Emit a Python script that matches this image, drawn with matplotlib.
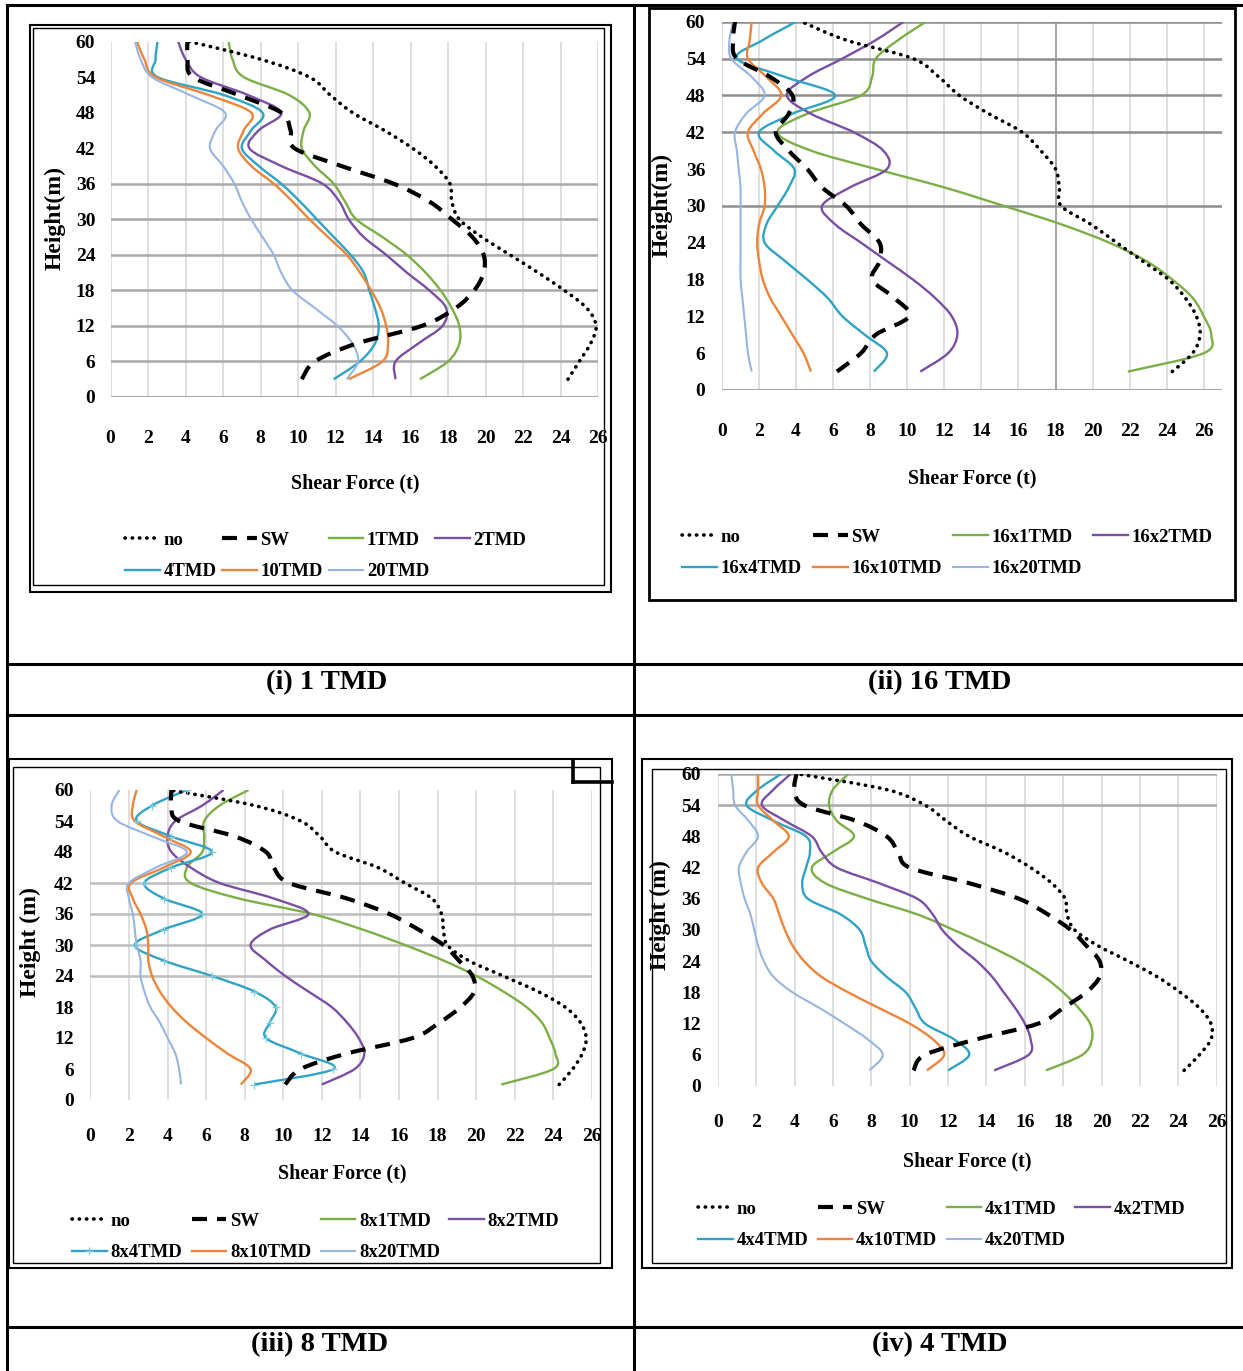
"""
Shear force along the building height for the four TMD layouts
(1, 16, 8 and 4 TMD), drawn as a 2x2 table with captions.
"""
import matplotlib
matplotlib.use("Agg")
import matplotlib.pyplot as plt
from matplotlib.lines import Line2D
from matplotlib.patches import Rectangle, PathPatch
from matplotlib.path import Path

W, H = 1243, 1371

plt.rcParams["font.family"] = ["Liberation Serif", "DejaVu Serif"]
plt.rcParams["font.weight"] = "bold"

# ── Storey heights (m) ─────────────────────────────────────────────────────
HEIGHTS = [3, 6, 9, 12, 15, 18, 21, 24, 27, 30, 33, 36, 39, 42, 45, 48, 51, 54, 57, 60]

# ── (i) 1 TMD: shear force (t) per storey ──────────────────────────────────
NO_1 = [24.4, 25.0, 25.6, 25.9, 25.4, 24.2, 22.8, 21.3, 19.8, 18.6, 18.2, 18.1, 17.3, 16.1, 14.6, 12.9, 11.7, 10.6, 8.0, 4.2]
SW_1 = [10.2, 10.9, 13.1, 16.6, 18.4, 19.4, 19.9, 19.9, 19.3, 18.2, 17.0, 15.1, 12.3, 9.8, 9.6, 9.1, 6.8, 4.4, 4.1, 4.1]
T1_1 = [16.5, 18.0, 18.6, 18.6, 18.2, 17.6, 16.8, 15.8, 14.5, 13.1, 12.5, 11.9, 10.9, 10.2, 10.3, 10.6, 9.5, 7.1, 6.5, 6.3]
T2_1 = [15.2, 15.2, 16.4, 17.7, 17.9, 17.0, 15.8, 14.7, 13.5, 12.7, 12.2, 11.3, 9.1, 7.4, 7.9, 9.1, 7.3, 4.8, 4.0, 3.6]
T4_1 = [11.9, 13.3, 14.1, 14.3, 14.1, 13.8, 13.5, 12.8, 11.9, 11.0, 10.1, 9.1, 7.9, 7.0, 7.5, 8.1, 6.0, 2.5, 2.4, 2.5]
T10_1 = [12.7, 14.5, 14.8, 14.7, 14.4, 13.9, 13.3, 12.6, 11.6, 10.6, 9.7, 8.7, 7.5, 6.8, 7.1, 7.5, 5.2, 2.4, 1.8, 1.4]
T20_1 = [12.6, 13.2, 12.9, 12.1, 10.9, 9.7, 9.1, 8.7, 8.1, 7.5, 7.0, 6.6, 6.0, 5.3, 5.6, 6.1, 4.2, 2.2, 1.6, 1.3]
LABELS_1 = ["no", "SW", "1TMD", "2TMD", "4TMD", "10TMD", "20TMD"]

# ── (ii) 16 TMD ────────────────────────────────────────────────────────────
NO_16 = [24.3, 25.4, 25.8, 25.6, 25.0, 24.1, 22.7, 21.3, 19.9, 18.3, 18.2, 18.0, 17.2, 16.2, 14.4, 12.8, 11.7, 10.3, 6.7, 4.3]
SW_16 = [6.2, 7.5, 8.3, 10.1, 9.3, 8.1, 8.5, 8.5, 7.5, 6.7, 5.4, 4.6, 3.6, 2.9, 3.6, 3.8, 2.6, 0.8, 0.6, 0.7]
T1_16 = [21.9, 26.0, 26.4, 26.0, 25.4, 24.3, 22.9, 20.9, 18.3, 15.2, 12.0, 8.3, 4.8, 3.0, 4.6, 7.5, 8.1, 8.3, 9.5, 11.0]
T2_16 = [10.7, 12.2, 12.7, 12.4, 11.5, 10.3, 8.9, 7.5, 6.1, 5.4, 6.9, 8.9, 8.7, 7.1, 4.8, 3.5, 4.6, 6.5, 8.3, 9.8]
T4_16 = [8.2, 8.9, 7.7, 6.5, 5.7, 4.6, 3.4, 2.3, 2.4, 3.0, 3.6, 3.9, 2.8, 2.0, 3.8, 6.1, 3.4, 0.8, 2.2, 4.0]
T10_16 = [4.8, 4.4, 3.8, 3.2, 2.6, 2.2, 2.0, 1.9, 2.0, 2.3, 2.3, 2.1, 1.7, 1.4, 2.2, 3.2, 2.4, 1.4, 1.5, 1.6]
T20_16 = [1.6, 1.4, 1.3, 1.2, 1.1, 1.0, 1.0, 1.0, 1.0, 1.0, 1.0, 0.9, 0.8, 0.7, 1.3, 2.3, 1.6, 0.5, 0.4, 0.6]
LABELS_16 = ["no", "SW", "16x1TMD", "16x2TMD", "16x4TMD", "16x10TMD", "16x20TMD"]

# ── (iii) 8 TMD ────────────────────────────────────────────────────────────
NO_8 = [24.3, 25.0, 25.5, 25.7, 25.4, 24.6, 23.2, 21.4, 19.6, 18.5, 18.3, 18.2, 17.7, 16.3, 14.9, 12.7, 11.9, 10.9, 8.5, 4.1]
SW_8 = [10.1, 10.9, 13.3, 16.7, 18.1, 19.2, 19.9, 19.8, 19.1, 18.3, 17.0, 15.5, 13.3, 10.3, 9.5, 9.1, 7.5, 4.6, 4.2, 4.2]
T1_8 = [21.3, 24.0, 24.1, 23.8, 23.4, 22.6, 21.4, 20.0, 18.3, 16.3, 14.1, 11.5, 7.7, 5.2, 5.0, 5.8, 5.9, 5.9, 6.7, 8.2]
T2_8 = [12.0, 13.7, 14.2, 13.9, 13.3, 12.5, 11.3, 10.1, 9.1, 8.3, 9.3, 11.3, 9.5, 6.7, 5.2, 4.2, 4.0, 4.4, 5.8, 6.9]
T4_8 = [8.5, 12.6, 10.9, 9.1, 9.3, 9.6, 8.5, 6.3, 3.8, 2.3, 3.8, 5.8, 3.8, 2.8, 4.2, 6.3, 4.2, 2.4, 3.2, 5.0]
T10_8 = [7.8, 8.3, 7.1, 6.0, 5.0, 4.2, 3.6, 3.2, 3.0, 3.0, 2.9, 2.6, 2.2, 2.1, 3.8, 5.2, 3.8, 2.3, 2.2, 2.4]
T20_8 = [4.7, 4.6, 4.4, 4.0, 3.6, 3.1, 2.8, 2.6, 2.6, 2.4, 2.3, 2.2, 2.0, 2.0, 3.4, 5.0, 3.2, 1.4, 1.1, 1.5]
LABELS_8 = ["no", "SW", "8x1TMD", "8x2TMD", "8x4TMD", "8x10TMD", "8x20TMD"]

# ── (iv) 4 TMD ─────────────────────────────────────────────────────────────
NO_4 = [24.3, 25.1, 25.7, 25.7, 25.1, 24.1, 22.9, 21.4, 19.8, 18.6, 18.2, 18.1, 17.4, 16.3, 14.9, 13.1, 11.9, 10.8, 8.8, 4.2]
SW_4 = [10.2, 10.8, 13.5, 16.7, 18.0, 19.2, 19.9, 19.9, 19.2, 18.4, 17.2, 15.7, 13.1, 10.0, 9.4, 8.8, 7.2, 4.5, 4.0, 4.1]
T1_4 = [17.1, 19.0, 19.5, 19.4, 18.8, 18.0, 17.0, 15.7, 14.1, 12.3, 10.4, 7.8, 5.6, 4.9, 6.0, 7.1, 6.2, 5.8, 6.0, 6.8]
T2_4 = [14.4, 16.2, 16.3, 16.0, 15.5, 14.9, 14.3, 13.5, 12.5, 11.7, 11.2, 10.4, 8.4, 6.2, 5.4, 4.9, 3.5, 2.3, 2.9, 3.8]
T4_4 = [12.0, 13.1, 12.3, 10.8, 10.3, 9.8, 8.8, 8.0, 7.7, 7.4, 6.4, 4.7, 4.4, 4.6, 4.8, 4.6, 2.9, 1.5, 2.1, 3.3]
T10_4 = [10.9, 11.8, 11.2, 10.0, 8.4, 6.8, 5.4, 4.5, 3.9, 3.5, 3.2, 2.9, 2.3, 2.1, 2.9, 3.7, 2.9, 2.1, 2.1, 2.1]
T20_4 = [7.9, 8.6, 7.8, 6.6, 5.3, 3.9, 2.9, 2.4, 2.1, 1.9, 1.7, 1.4, 1.2, 1.1, 1.5, 2.1, 1.6, 0.9, 0.8, 0.7]
LABELS_4 = ["no", "SW", "4x1TMD", "4x2TMD", "4x4TMD", "4x10TMD", "4x20TMD"]

X_TICKS = [0, 2, 4, 6, 8, 10, 12, 14, 16, 18, 20, 22, 24, 26]
Y_TICKS = [0, 6, 12, 18, 24, 30, 36, 42, 48, 54, 60]
CAPTIONS = ["(i) 1 TMD", "(ii) 16 TMD", "(iii) 8 TMD", "(iv) 4 TMD"]

# ── Estilos de serie ───────────────────────────────────────────────────────
STYLES = [
    dict(color="black", lw=2.6, linestyle=(0, (0.1, 1.9)), capstyle="round"),
    dict(color="black", lw=3.0, linestyle=(0, (3.6, 2.4)), capstyle="butt"),
    dict(color="#7BAF45", lw=1.7, linestyle="-", capstyle="butt"),
    dict(color="#7A4FA3", lw=1.7, linestyle="-", capstyle="butt"),
    dict(color="#2FA3C4", lw=1.7, linestyle="-", capstyle="butt"),
    dict(color="#EE8439", lw=1.7, linestyle="-", capstyle="butt"),
    dict(color="#97B5E0", lw=1.5, linestyle="-", capstyle="butt"),
]

fig = plt.figure(figsize=(W / 100, H / 100), dpi=100)


def fx(x):
    return x / W


def fy(y):
    return 1 - y / H


def seg(x0, y0, x1, y1, lw=2.2, color="black"):
    fig.add_artist(Line2D([fx(x0), fx(x1)], [fy(y0), fy(y1)],
                          transform=fig.transFigure, lw=lw, color=color,
                          solid_capstyle="projecting"))


def box(x0, y0, x1, y1, lw=1.5, color="black"):
    fig.add_artist(Rectangle((fx(x0), fy(y1)), fx(x1) - fx(x0), fy(y0) - fy(y1),
                             transform=fig.transFigure, fill=False, lw=lw, ec=color))


def smooth_path(xs, ys):
    """Curva suave (Catmull-Rom en Bézier cúbicas) que pasa por cada punto."""
    pts = list(zip(xs, ys))
    n = len(pts)
    verts = [pts[0]]
    codes = [Path.MOVETO]
    for i in range(n - 1):
        p0 = pts[max(i - 1, 0)]
        p1 = pts[i]
        p2 = pts[i + 1]
        p3 = pts[min(i + 2, n - 1)]
        c1 = (p1[0] + (p2[0] - p0[0]) / 6, p1[1] + (p2[1] - p0[1]) / 6)
        c2 = (p2[0] - (p3[0] - p1[0]) / 6, p2[1] - (p3[1] - p1[1]) / 6)
        verts += [c1, c2, p2]
        codes += [Path.CURVE4] * 3
    return Path(verts, codes)


# ── Tabla ──────────────────────────────────────────────────────────────────
seg(7, 5, 1243, 5)
seg(7, 5, 7, 1371)
seg(634, 5, 634, 1371)
for yy in (664, 715, 1327):
    seg(7, yy, 1243, yy)

caption_pos = [(327, 683), (940, 683), (320, 1345), (940, 1345)]
for (cx, cy), cap in zip(caption_pos, CAPTIONS):
    fig.text(fx(cx), fy(cy), cap, ha="center", va="center", fontsize=20.5,
             fontweight="bold")

# ── Paneles ────────────────────────────────────────────────────────────────
PANELS = [
    dict(series=[NO_1, SW_1, T1_1, T2_1, T4_1, T10_1, T20_1], labels=LABELS_1,
         x0=110.6, x26=598, y0=397, y60=41.5, xmax=26,
         hgrid=[6, 12, 18, 24, 30, 36], hcolor="#a8a8a8", zero_line=True,
         xpad=24, ypad=11, ylabel="Height(m)",
         xlab=(355, 483), ylab=(55, 218), leg=(125, 556), colsp=0.3),
    dict(series=[NO_16, SW_16, T1_16, T2_16, T4_16, T10_16, T20_16], labels=LABELS_16,
         x0=722, x26=1203.8, y0=390, y60=21.7, xmax=27,
         hgrid=[30, 42, 48, 54, 60], hcolor="#8e8e8e", zero_line=True,
         xpad=24, ypad=12, ylabel="Height(m)",
         xlab=(972, 478), ylab=(662, 205), leg=(682, 553), colsp=0.6),
    dict(series=[NO_8, SW_8, T1_8, T2_8, T4_8, T10_8, T20_8], labels=LABELS_8,
         x0=90.4, x26=592, y0=1100, y60=790, xmax=26,
         hgrid=[24, 30, 36, 42], hcolor="#bdbdbd", zero_line=False,
         xpad=20, ypad=12, ylabel="Height (m)",
         xlab=(342, 1173), ylab=(30, 942), leg=(72, 1237), colsp=0.5),
    dict(series=[NO_4, SW_4, T1_4, T2_4, T4_4, T10_4, T20_4], labels=LABELS_4,
         x0=717.8, x26=1216.7, y0=1086, y60=774, xmax=26,
         hgrid=[54, 60], hcolor="#a8a8a8", zero_line=False,
         xpad=20, ypad=12, ylabel="Height (m)",
         xlab=(967, 1161), ylab=(660, 915), leg=(698, 1225), colsp=0.5),
]

for k, p in enumerate(PANELS):
    unit = (p["x26"] - p["x0"]) / 26
    x1 = p["x0"] + unit * p["xmax"]
    ax = fig.add_axes([fx(p["x0"]), fy(p["y0"]), fx(x1) - fx(p["x0"]),
                       fy(p["y60"]) - fy(p["y0"])])
    ax.set_xlim(0, p["xmax"])
    ax.set_ylim(0, 60)
    ax.patch.set_alpha(0)
    for s in ax.spines.values():
        s.set_visible(False)

    for xv in X_TICKS:
        ax.axvline(xv, color="#d6d6d6", lw=1.1, zorder=0)
    if k == 1:
        ax.axvline(18, color="#a0a0a0", lw=1.3, zorder=0)
    for yv in p["hgrid"]:
        ax.axhline(yv, color=p["hcolor"], lw=1.8, zorder=0)
    if p["zero_line"]:
        ax.axhline(0, color="#a8a8a8", lw=1.5, zorder=0)

    handles = []
    for i, (vals, lab) in enumerate(zip(p["series"], p["labels"])):
        st = STYLES[i]
        ax.add_patch(PathPatch(smooth_path(vals, HEIGHTS), fill=False,
                               edgecolor=st["color"], lw=st["lw"],
                               linestyle=st["linestyle"], capstyle=st["capstyle"],
                               joinstyle="round", zorder=3 + (i < 2)))
        extra = {}
        if k == 2 and i == 4:
            # serie con marcadores en cada planta
            ax.plot(vals, HEIGHTS, linestyle="none", marker="+", markersize=6,
                    markeredgewidth=0.9, markeredgecolor="#7fcbe0", zorder=4)
            extra = dict(marker="+", markersize=6, markeredgewidth=0.9,
                         markeredgecolor="#7fcbe0")
        handles.append(Line2D([], [], color=st["color"], lw=st["lw"],
                              linestyle=st["linestyle"],
                              dash_capstyle=st["capstyle"], **extra))

    ax.set_xticks(X_TICKS)
    ax.set_yticks(Y_TICKS)
    ax.tick_params(axis="both", length=0, labelsize=14)
    ax.tick_params(axis="x", pad=p["xpad"])
    ax.tick_params(axis="y", pad=p["ypad"])

    fig.text(fx(p["xlab"][0]), fy(p["xlab"][1]), "Shear Force (t)", ha="center",
             va="center", fontsize=14.5, fontweight="bold")
    fig.text(fx(p["ylab"][0]), fy(p["ylab"][1]), p["ylabel"], ha="center",
             va="center", rotation=90, fontsize=17, fontweight="bold")

    # leyenda en filas: no, SW, x1, x2 / x4, x10, x20
    order = [0, 4, 1, 5, 2, 6, 3]
    fig.legend([handles[j] for j in order], [p["labels"][j] for j in order],
               loc="center left", bbox_to_anchor=(fx(p["leg"][0]), fy(p["leg"][1])),
               ncol=4, frameon=False, fontsize=13.5, handlelength=1.85,
               handletextpad=0.2, columnspacing=p["colsp"], labelspacing=0.75,
               borderpad=0, borderaxespad=0)

# ── Marcos de cada gráfico ─────────────────────────────────────────────────
box(30, 25, 611, 592, lw=1.5)
box(33, 28, 604, 585, lw=1.0)
box(649, 8, 1235, 600, lw=2.0)
box(9, 759, 612, 1268, lw=1.5)
box(13, 767, 600, 1263, lw=1.0)
box(642, 759, 1232, 1268, lw=1.5)
box(652, 769, 1226, 1263, lw=1.0)
seg(573, 761, 573, 782, lw=2.6)
seg(573, 782, 612, 782, lw=2.6)

fig.savefig("out.png", dpi=100)
